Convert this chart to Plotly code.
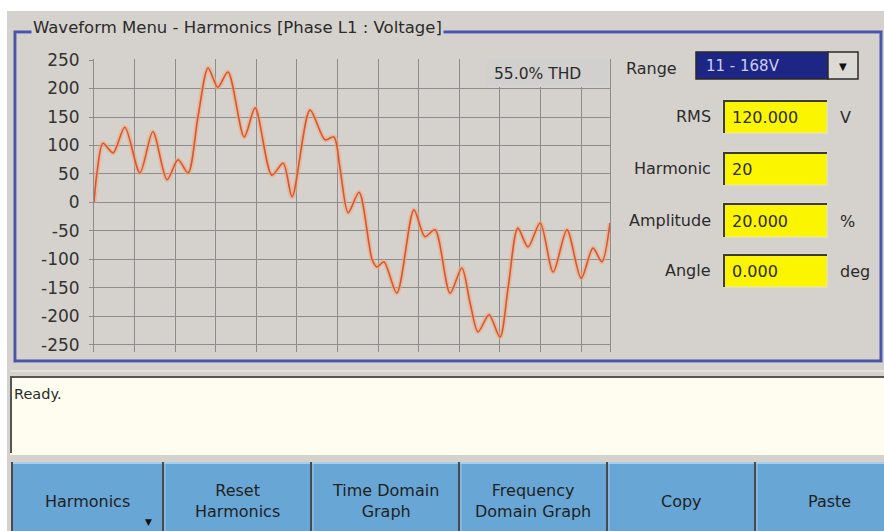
import plotly.graph_objects as go

# ---------------- data ----------------
wave_x = [0.00, 0.07, 0.22, 0.47, 0.76, 1.13, 1.45, 1.80, 2.07, 2.32, 2.56, 2.81,
          3.05, 3.30, 3.70, 3.97, 4.38, 4.66, 4.88, 5.32, 5.69, 5.91, 6.06, 6.26,
          6.53, 6.85, 6.97, 7.14, 7.46, 7.88, 8.15, 8.40, 8.77, 9.06, 9.26, 9.46,
          9.73, 10.00, 10.20, 10.44, 10.69, 10.99, 11.31, 11.65, 12.00, 12.29,
          12.51, 12.71]
wave_y = [0, 50, 104, 87, 132, 52, 124, 40, 75, 52, 150, 236,
          202, 229, 115, 166, 48, 69, 10, 162, 110, 115, 60, -18,
          18, -100, -113, -104, -159, -13, -60, -48, -159, -115, -175, -227,
          -197, -236, -150, -45, -78, -36, -122, -48, -133, -80,
          -104, -36]

y_ticks = [250, 200, 150, 100, 50, 0, -50, -100, -150, -200, -250]
x_grid_step = 1

title_text = "Waveform Menu - Harmonics [Phase L1 : Voltage]"
thd_text = "55.0% THD"
range_label = "Range"
range_value = "11 - 168V"
field_labels = ["RMS", "Harmonic", "Amplitude", "Angle"]
field_values = ["120.000", "20", "20.000", "0.000"]
field_units = ["V", "", "%", "deg"]
status_text = "Ready."
button_labels = ["Harmonics", "Reset<br>Harmonics", "Time Domain<br>Graph",
                 "Frequency<br>Domain Graph", "Copy", "Paste"]

# ---------------- layout geometry (pixels) ----------------
W, H = 884, 531
L, R, T, B = 94, 610, 59, 352
FONT = "DejaVu Sans"
GRAY = "#d5d2cd"
PLOT_BG = "#d2d0cf"
TXT = "#2b2b2b"


def fx(px):
    return (px - L) / (R - L)


def fy(py):
    return (B - py) / (B - T)


shapes = []
annots = []


def rect(x0, y0, x1, y1, fill=None, line=None, lw=0, layer="above"):
    shapes.append(dict(type="rect", xref="paper", yref="paper",
                       x0=fx(x0), x1=fx(x1), y0=fy(y1), y1=fy(y0),
                       fillcolor=fill if fill else "rgba(0,0,0,0)",
                       line=dict(color=line if line else "rgba(0,0,0,0)", width=lw),
                       layer=layer))


def seg(x0, y0, x1, y1, color, lw):
    shapes.append(dict(type="line", xref="paper", yref="paper",
                       x0=fx(x0), x1=fx(x1), y0=fy(y0), y1=fy(y1),
                       line=dict(color=color, width=lw), layer="above"))


def text(px, py, s, size=16, color=TXT, xanchor="center", bg=None, align="center"):
    d = dict(xref="paper", yref="paper", x=fx(px), y=fy(py), text=s,
             showarrow=False, xanchor=xanchor, yanchor="middle", align=align,
             font=dict(family=FONT, size=size, color=color))
    if bg:
        d["bgcolor"] = bg
    annots.append(d)


# page background (white strip at top/left as in reference)
rect(7, 11, 884, 531, fill=GRAY, layer="below")

# group box
rect(16, 33, 882, 362, line="#ffffff", lw=1)
rect(15, 32, 881, 361, line="#4a55a8", lw=3)
text(237, 28, title_text, size=16.5, color=TXT, bg=GRAY)

# THD box inside plot
rect(487, 59, 608, 87, fill=PLOT_BG)
text(537, 74, thd_text, size=15.5)

# Range dropdown
text(679, 68, range_label, size=16, xanchor="right")
rect(696, 52, 828, 79, fill="#1d2585", line="#2a2a2a", lw=1.5)
text(704, 66, range_value, size=15, color="#c9cff3", xanchor="left")
rect(828, 52, 858, 79, fill="#dcdad4", line="#2a2a2a", lw=1.5)
text(843, 66, "▼", size=10, color="#111111")

# yellow input fields
box_rows = [(100, 133), (152, 185), (203, 237), (254, 287)]
for (y0, y1), lab, val, unit in zip(box_rows, field_labels, field_values, field_units):
    yc = (y0 + y1) / 2
    rect(723, y0, 827, y1, fill="#fbf600", line="#e8e4c0", lw=1)
    seg(723, y0 + 1, 827, y0 + 1, "#3a3a3a", 2)
    seg(724, y0, 724, y1, "#3a3a3a", 2)
    text(713, yc, lab, size=16, xanchor="right")
    text(730, yc + 1, val, size=16, xanchor="left")
    if unit:
        text(838, yc + 1, unit, size=16, xanchor="left")

# status area
rect(10, 377, 884, 455, fill="#fffdf0")
seg(10, 377, 884, 377, "#555555", 2)
seg(11, 377, 11, 453, "#555555", 2)
seg(10, 371, 884, 371, "#f0f0f0", 1)
text(12, 394, status_text, size=14.5, xanchor="left")

# buttons bar
rect(12, 462, 884, 531, fill="#68a6d6")
seg(12, 463, 884, 463, "#a9cdea", 2)
seg(12, 462, 12, 531, "#4a4a4a", 2)
dividers = [163, 311, 459, 607, 755]
for dx in dividers:
    seg(dx, 462, dx, 531, "#4a4a4a", 2)
    seg(dx + 2, 464, dx + 2, 531, "#9cc6e6", 1)
centers = [87, 237, 385, 533, 681, 829]
for cx, lab in zip(centers, button_labels):
    text(cx, 501, lab, size=16, color="#1f1f1f")
text(148, 522, "▼", size=9, color="#111111")

# ---------------- figure ----------------
fig = go.Figure()
fig.add_trace(go.Scatter(x=wave_x, y=wave_y, mode="lines",
                         line=dict(color="rgba(245,165,115,0.55)", width=5,
                                   shape="spline", smoothing=0.8),
                         hoverinfo="skip", showlegend=False))
fig.add_trace(go.Scatter(x=wave_x, y=wave_y, mode="lines",
                         line=dict(color="#d2583a", width=1.6,
                                   shape="spline", smoothing=0.8),
                         showlegend=False))

fig.update_layout(
    width=W, height=H,
    margin=dict(l=L, r=W - R, t=T, b=H - B, pad=0),
    paper_bgcolor="#ffffff",
    plot_bgcolor=PLOT_BG,
    shapes=shapes,
    annotations=annots,
    showlegend=False,
    xaxis=dict(range=[0, 12.71], dtick=x_grid_step, tick0=0,
               showticklabels=False, showgrid=True, gridcolor="#8c8c8c",
               gridwidth=1.3, zeroline=False, ticks="", fixedrange=True),
    yaxis=dict(range=[-262.3, 251.75], tickvals=y_ticks,
               ticktext=[str(v) for v in y_ticks],
               showgrid=True, gridcolor="#8c8c8c", gridwidth=1.3,
               zeroline=False, ticks="outside", ticklen=4, tickcolor="#8c8c8c",
               ticklabelstandoff=6,
               tickfont=dict(family=FONT, size=17, color="#333333"),
               showline=True, mirror=True, linecolor="#8c8c8c", linewidth=1,
               fixedrange=True),
)

fig.write_html("out.html",
               config={"displayModeBar": False},
               post_script="document.body.style.margin='0';"
                           "document.body.style.overflow='hidden';")
